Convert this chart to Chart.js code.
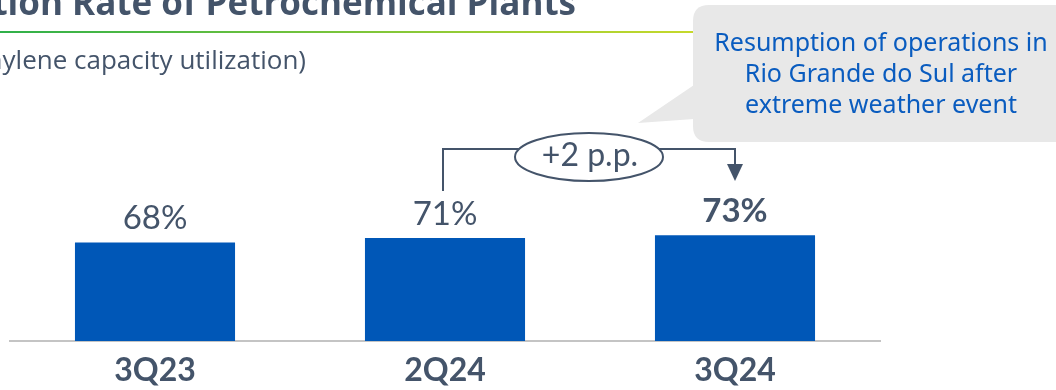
<!DOCTYPE html>
<html>
<head>
<meta charset="utf-8">
<script src="https://cdn.jsdelivr.net/npm/chart.js@4"></script>
<style>
  html, body { margin: 0; padding: 0; background: #fff; overflow: hidden; }
  canvas { display: block; }
</style>
</head>
<body>
<canvas id="util-chart" width="1056" height="390"></canvas>
<script>
// ethylene capacity utilization, %
const quarters = ['3Q23', '2Q24', '3Q24'];
const utilization = [68, 71, 73];
const valueLabels = ['68%', '71%', '73%'];
const deltaLabel = '+2 p.p.';
const titleText = 'Utilization Rate of Petrochemical Plants';
const subtitleText = '(Ethylene capacity utilization)';
const noteLines = ['Resumption of operations in', 'Rio Grande do Sul after', 'extreme weather event'];

const slate = '#44546a';
const barBlue = '#0057b7';

function roundRect(ctx, x, y, w, h, r) {
    ctx.beginPath();
    ctx.moveTo(x + r, y);
    ctx.lineTo(x + w - r, y);
    ctx.quadraticCurveTo(x + w, y, x + w, y + r);
    ctx.lineTo(x + w, y + h - r);
    ctx.quadraticCurveTo(x + w, y + h, x + w - r, y + h);
    ctx.lineTo(x + r, y + h);
    ctx.quadraticCurveTo(x, y + h, x, y + h - r);
    ctx.lineTo(x, y + r);
    ctx.quadraticCurveTo(x, y, x + r, y);
    ctx.closePath();
}

// header, callout, bracket and value labels
const decorations = {
    id: 'decorations',
    afterDraw(chart) {
        const ctx = chart.ctx;
        const bars = chart.getDatasetMeta(0).data;
        ctx.save();

        // title (runs off the left edge)
        ctx.fillStyle = slate;
        ctx.font = 'bold 35px "Open Sans"';
        ctx.textAlign = 'right';
        ctx.textBaseline = 'alphabetic';
        ctx.fillText(titleText, 576, 15);

        // green rule under the title
        const grad = ctx.createLinearGradient(0, 0, 695, 0);
        grad.addColorStop(0, '#2fb04a');
        grad.addColorStop(1, '#c6d92b');
        ctx.fillStyle = grad;
        ctx.fillRect(0, 31, 695, 2);

        // subtitle
        ctx.fillStyle = slate;
        ctx.font = '26px "Open Sans"';
        ctx.fillText(subtitleText, 306, 69);

        // callout bubble
        ctx.fillStyle = '#e8e8e8';
        roundRect(ctx, 693, 5, 400, 137, 16);
        ctx.fill();
        ctx.beginPath();
        ctx.moveTo(694, 85);
        ctx.lineTo(638, 123);
        ctx.lineTo(694, 119);
        ctx.closePath();
        ctx.fill();

        ctx.fillStyle = '#0a5cbf';
        ctx.font = '25px "Noto Sans"';
        ctx.textAlign = 'center';
        ctx.textBaseline = 'middle';
        noteLines.forEach((line, i) => ctx.fillText(line, 881, 44 + i * 31));

        // bracket from 2Q24 to 3Q24
        const x1 = bars[1].x - 2;
        const x2 = bars[2].x;
        const lineY = 149;
        ctx.strokeStyle = slate;
        ctx.lineWidth = 2;
        ctx.beginPath();
        ctx.moveTo(x1, 191);
        ctx.lineTo(x1, lineY);
        ctx.lineTo(x2, lineY);
        ctx.lineTo(x2, 165);
        ctx.stroke();
        ctx.fillStyle = slate;
        ctx.beginPath();
        ctx.moveTo(x2 - 8, 164);
        ctx.lineTo(x2 + 8, 164);
        ctx.lineTo(x2, 181);
        ctx.closePath();
        ctx.fill();

        // delta badge
        ctx.fillStyle = '#fff';
        ctx.beginPath();
        ctx.ellipse(589, 157, 74, 24, 0, 0, Math.PI * 2);
        ctx.fill();
        ctx.stroke();
        ctx.fillStyle = slate;
        ctx.font = '32px Lato';
        ctx.fillText(deltaLabel, 590, 156);

        // value labels above bars
        bars.forEach((bar, i) => {
            ctx.font = (i === bars.length - 1 ? 'bold ' : '') + '33px Lato';
            ctx.fillText(valueLabels[i], bar.x, bar.y - 24);
        });

        ctx.restore();
    }
};

new Chart(document.getElementById('util-chart').getContext('2d'), {
    type: 'bar',
    data: {
        labels: quarters,
        datasets: [{
            data: utilization,
            backgroundColor: barBlue,
            borderWidth: 0,
            categoryPercentage: 1,
            barPercentage: 0.552
        }]
    },
    options: {
        responsive: false,
        animation: false,
        layout: { padding: { left: 10, right: 176, top: 196, bottom: 0 } },
        plugins: {
            legend: { display: false },
            tooltip: { enabled: false }
        },
        scales: {
            y: { display: false, min: 0, max: 100 },
            x: {
                grid: { display: false, drawTicks: false },
                border: { color: '#c4c4c4', width: 2 },
                ticks: {
                    color: slate,
                    padding: 10,
                    font: { family: 'Lato', size: 32, weight: 'bold' }
                },
                afterFit(scale) { scale.height = 49; }
            }
        }
    },
    plugins: [decorations]
});
</script>
</body>
</html>
